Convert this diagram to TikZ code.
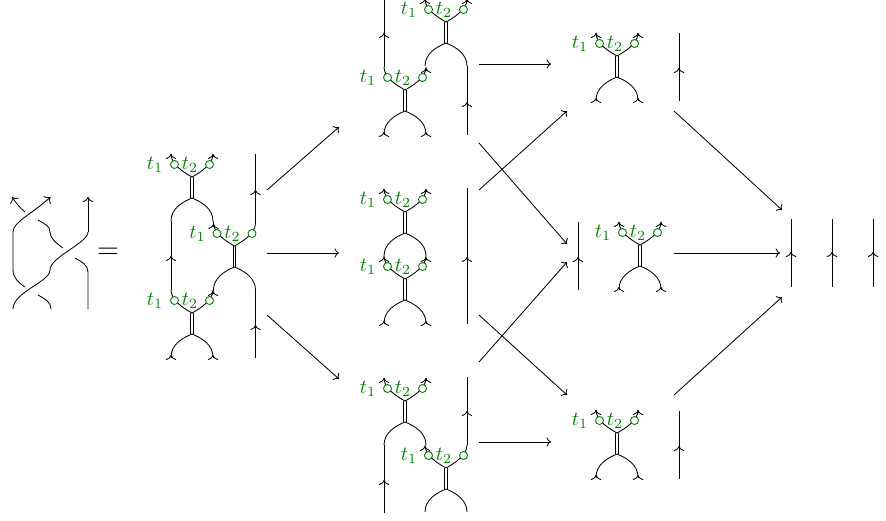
\documentclass[tikz,border=0pt]{standalone}
\usetikzlibrary{arrows.meta}
\definecolor{webgreen}{rgb}{0,0.5,0}
\tikzset{
  strand/.style={line width=0.42pt},
  flow/.style={line width=0.42pt,-{Computer Modern Rightarrow[length=2.2pt,width=4.6pt]}},
  chev/.style={line width=0.42pt,-{Computer Modern Rightarrow[length=2.5pt,width=5.2pt]}},
  ring/.style={circle,draw=webgreen,fill=white,line width=0.45pt,minimum size=4pt,inner sep=0pt},
  tlabel/.style={text=webgreen,inner sep=0pt}
}
% name, centre x, y of the top of the double line
\newcommand{\mkweb}[3]{%
  \begin{scope}[shift={(#2,#3)}]
    \coordinate (#1-tl) at (-21,-23);
    \coordinate (#1-tr) at (21,-23);
    \coordinate (#1-bl) at (-21,44);
    \coordinate (#1-br) at (21,44);
    \coordinate (#1-u) at (0,0);
    \coordinate (#1-d) at (0,21);
    \draw[strand] (#1-u) .. controls (-7,-4) and (-21,-12) .. (#1-tl);
    \draw[strand] (#1-u) .. controls (7,-4) and (21,-12) .. (#1-tr);
    \draw[strand] (#1-d) .. controls (-10,25) and (-21,32) .. (#1-bl);
    \draw[strand] (#1-d) .. controls (10,25) and (21,32) .. (#1-br);
    \draw[strand] (-1.1,0) -- (-1.1,21);
    \draw[strand] (1.1,0) -- (1.1,21);
    \node[ring] (#1-c1) at (-17.5,-12.5) {};
    \node[ring] (#1-c2) at (17.5,-12.5) {};
    \node[tlabel] (#1-t1) at (-37,-12) {$t_1$};
    \node[tlabel] (#1-t2) at (-2,-12) {$t_2$};
  \end{scope}}
\newcommand{\upchev}[2][0]{\draw[chev,shift={(#2)}] (0,#1+2.5) -- (0,#1);}
\newcommand{\botchev}[1]{\upchev[-2]{#1}}
\newcommand{\midflow}[3]{\draw[chev] (#1,#2+2.5) -- (#1,#2);\coordinate (#3) at (#1,#2);}
\begin{document}
\begin{tikzpicture}[x=0.5pt,y=-0.5pt]
\useasboundingbox (0,0) rectangle (886,520);

% braid
\coordinate (b1t) at (50.5,197);
\coordinate (b2t) at (12,197);
\coordinate (b3t) at (88,197);
\draw[chev] (13,270) -- (13,232) .. controls (13,222) and (32,214) .. (b1t);
\draw[strand] (13,270) .. controls (13,278) and (19,283) .. (25,287);
\draw[strand] (38,295) .. controls (45,299) and (51,302) .. (51,309);
\draw[chev] (25,212) .. controls (20,208) and (16,203) .. (b2t);
\draw[strand] (38,220) .. controls (45,224) and (50,226) .. (50,232) .. controls (50,238) and (56,243) .. (63,248);
\draw[chev] (88,232) -- (b3t);
\draw[strand] (88,232) .. controls (88,243) and (50,257) .. (50,270) .. controls (50,282) and (13,292) .. (13,309);
\draw[strand] (75,258) .. controls (82,262) and (88,265) .. (88,272) -- (88,309);
\node[inner sep=0pt] (eq) at (108,253) {\Large $=$};

% first column
\mkweb{A}{192}{177}
\mkweb{B}{234.5}{246}
\mkweb{C}{192}{313}
\upchev{A-tl}\upchev{A-tr}
\upchev[1]{B-tl}
\upchev[1]{C-tr}
\botchev{C-bl}\botchev{C-br}
\coordinate (s1) at (255.5,154);
\coordinate (s2) at (255.5,358);
\draw[strand] (B-tr) -- (s1);
\draw[strand] (B-br) -- (s2);
\draw[strand] (C-tl) -- (A-bl);
\draw[strand] (C-tr) -- (B-bl);
\draw[strand] (A-br) -- (B-tl);
\midflow{255.5}{190}{f1}
\midflow{255.5}{325}{f2}
\midflow{171}{256}{f3}

% second column, top
\mkweb{D}{405}{90}
\mkweb{E}{446}{22}
\upchev{E-tl}\upchev{E-tr}
\upchev[1]{D-tr}
\botchev{D-bl}\botchev{D-br}
\coordinate (s3) at (384,-2);
\coordinate (s4) at (467,135);
\draw[strand] (D-tl) -- (s3);
\draw[strand] (E-br) -- (s4);
\midflow{384}{33}{f4}
\midflow{467}{102}{f5}

% second column, middle
\mkweb{F}{405}{212}
\mkweb{G}{405}{279}
\upchev{F-tl}\upchev{F-tr}
\upchev[1]{G-tl}\upchev[1]{G-tr}
\botchev{G-bl}\botchev{G-br}
\coordinate (s5) at (467,188);
\coordinate (s6) at (467,324);
\draw[strand] (s5) -- (s6);
\midflow{467}{257}{f6}

% second column, bottom
\mkweb{H}{405}{401}
\mkweb{I}{446}{468}
\upchev{H-tl}\upchev{H-tr}
\upchev[1]{I-tl}
\coordinate (s7) at (384,513);
\coordinate (s8) at (467,377);
\draw[strand] (H-bl) -- (s7);
\draw[strand] (I-tr) -- (s8);
\midflow{384}{480}{f7}
\midflow{467}{411}{f8}

% third column
\mkweb{J}{617}{56}
\upchev{J-tl}\upchev{J-tr}\botchev{J-bl}\botchev{J-br}
\coordinate (s9) at (679,33);
\coordinate (s10) at (679,101);
\draw[strand] (s9) -- (s10);
\midflow{679}{68}{f9}

\mkweb{K}{640}{245}
\upchev{K-tl}\upchev{K-tr}\botchev{K-bl}\botchev{K-br}
\coordinate (s11) at (578,222);
\coordinate (s12) at (578,290);
\draw[strand] (s11) -- (s12);
\midflow{578}{257}{f10}

\mkweb{L}{617}{433}
\upchev{L-tl}\upchev{L-tr}\botchev{L-bl}\botchev{L-br}
\coordinate (s13) at (679,411);
\coordinate (s14) at (679,479);
\draw[strand] (s13) -- (s14);
\midflow{679}{446}{f11}

% last column
\foreach \n/\x in {p/791,q/832,r/873}{
  \coordinate (\n t) at (\x,219);
  \coordinate (\n b) at (\x,287);
  \draw[strand] (\n t) -- (\n b);
  \midflow{\x}{252}{\n m}
}

% arrows
\coordinate (a1) at (267,190); \coordinate (a2) at (339,127);
\coordinate (a3) at (267,253); \coordinate (a4) at (339,253);
\coordinate (a5) at (267,315); \coordinate (a6) at (339,379);
\coordinate (a7) at (479,64);  \coordinate (a8) at (551,64);
\coordinate (a9) at (479,143); \coordinate (a10) at (567,244);
\coordinate (a11) at (479,190);\coordinate (a12) at (567,111);
\coordinate (a13) at (479,315);\coordinate (a14) at (567,395);
\coordinate (a15) at (479,362);\coordinate (a16) at (567,262);
\coordinate (a17) at (479,442);\coordinate (a18) at (551,442);
\coordinate (a19) at (674,111);\coordinate (a20) at (782,210);
\coordinate (a21) at (674,253);\coordinate (a22) at (780,253);
\coordinate (a23) at (674,395);\coordinate (a24) at (782,297);
\foreach \u/\v in {a1/a2,a3/a4,a5/a6,a7/a8,a9/a10,a11/a12,a13/a14,a15/a16,a17/a18,a19/a20,a21/a22,a23/a24}
  \draw[flow] (\u) -- (\v);
\end{tikzpicture}
\end{document}
